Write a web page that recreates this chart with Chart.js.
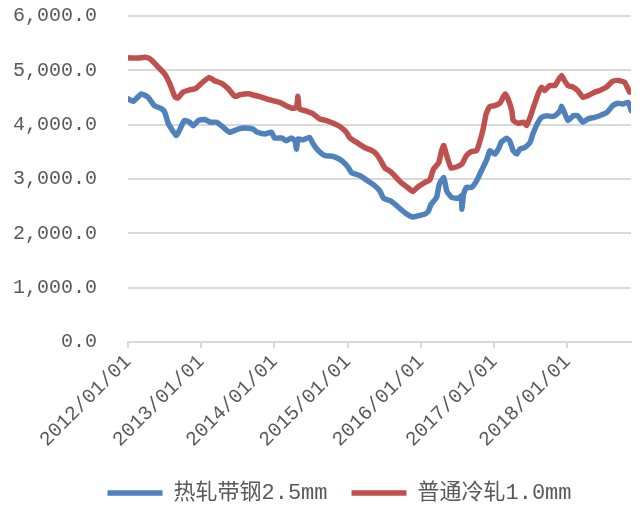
<!DOCTYPE html>
<html>
<head>
<meta charset="utf-8">
<script src="https://cdn.jsdelivr.net/npm/chart.js@4/dist/chart.umd.min.js"></script>
<style>
  html, body { margin: 0; padding: 0; background: #ffffff; }
  #wrap { width: 641px; height: 506px; position: relative; }
</style>
</head>
<body>
<div id="wrap"><canvas id="c" width="641" height="506"></canvas></div>
<script>
// 热轧带钢2.5mm 价格（元/吨）
const hotDates = [
  '2012-01-01','2012-01-27','2012-03-08','2012-04-10','2012-05-12','2012-06-18','2012-07-03','2012-07-21',
  '2012-08-30','2012-09-17','2012-10-09','2012-11-04','2012-11-22','2012-12-17','2013-01-19','2013-02-14',
  '2013-03-19','2013-04-21','2013-05-23','2013-07-03','2013-08-04','2013-09-17','2013-10-02','2013-11-15',
  '2013-12-17','2014-01-01','2014-02-06','2014-03-01','2014-03-26','2014-04-13','2014-04-21','2014-04-28',
  '2014-05-23','2014-06-25','2014-07-13','2014-08-08','2014-09-10','2014-10-20','2014-12-03','2015-01-04',
  '2015-01-19','2015-03-04','2015-04-21','2015-05-16','2015-06-10','2015-06-29','2015-08-01','2015-09-03',
  '2015-10-13','2015-11-22','2015-12-17','2016-01-19','2016-02-06','2016-02-21','2016-03-19','2016-04-02',
  '2016-04-24','2016-05-09','2016-06-03','2016-07-06','2016-07-21','2016-07-24','2016-08-01','2016-08-15',
  '2016-09-10','2016-10-05','2016-10-31','2016-11-26','2016-12-10','2017-01-04','2017-01-23','2017-02-06',
  '2017-03-04','2017-03-19','2017-04-06','2017-04-24','2017-05-09','2017-06-03','2017-06-29','2017-07-13',
  '2017-08-08','2017-08-26','2017-09-21','2017-10-13','2017-10-31','2017-11-26','2017-12-03','2017-12-17',
  '2018-01-04','2018-01-30','2018-02-21','2018-03-19','2018-04-13','2018-05-16','2018-06-11','2018-07-17',
  '2018-08-15','2018-09-10','2018-10-05','2018-10-31','2018-11-15'
];
const hotPrices = [
  4475, 4430, 4565, 4505, 4350, 4290, 4225, 4015,
  3800, 3920, 4075, 4045, 3980, 4075, 4095, 4045,
  4045, 3950, 3860, 3920, 3940, 3920, 3870, 3830,
  3860, 3755, 3755, 3705, 3755, 3705, 3550, 3735,
  3720, 3765, 3645, 3520, 3430, 3415, 3335, 3210,
  3120, 3060, 2940, 2875, 2780, 2645, 2600, 2505,
  2380, 2300, 2320, 2350, 2400, 2535, 2660, 2905,
  3025, 2780, 2660, 2645, 2690, 2445, 2720, 2845,
  2845, 2965, 3165, 3365, 3520, 3460, 3560, 3680,
  3750, 3705, 3520, 3460, 3550, 3580, 3675, 3830,
  4045, 4135, 4165, 4150, 4165, 4260, 4335, 4225,
  4075, 4165, 4165, 4045, 4105, 4135, 4165, 4225,
  4350, 4395, 4380, 4410, 4260
];

// 普通冷轧1.0mm 价格（元/吨）
const coldDates = [
  '2012-01-01','2012-02-21','2012-03-26','2012-04-21','2012-05-23','2012-07-03','2012-07-28','2012-08-23',
  '2012-09-06','2012-10-02','2012-11-04','2012-12-06','2013-01-08','2013-02-10','2013-03-08','2013-04-13',
  '2013-05-16','2013-06-18','2013-07-13','2013-08-23','2013-09-24','2013-10-20','2013-12-10','2014-01-27',
  '2014-02-28','2014-04-02','2014-04-21','2014-04-28','2014-05-05','2014-05-31','2014-07-13','2014-08-15',
  '2014-09-17','2014-10-27','2014-11-29','2014-12-25','2015-01-12','2015-02-14','2015-03-26','2015-04-28',
  '2015-05-16','2015-06-10','2015-07-06','2015-08-01','2015-08-23','2015-09-24','2015-10-31','2015-11-22',
  '2015-12-17','2016-01-19','2016-02-14','2016-03-04','2016-03-30','2016-04-13','2016-04-24','2016-05-09',
  '2016-05-31','2016-06-29','2016-07-24','2016-08-15','2016-09-10','2016-10-05','2016-10-20','2016-11-07',
  '2016-11-22','2016-12-10','2017-01-04','2017-01-30','2017-02-14','2017-02-25','2017-03-11','2017-03-30',
  '2017-04-06','2017-05-01','2017-05-27','2017-06-11','2017-06-29','2017-07-13','2017-08-08','2017-08-26',
  '2017-09-10','2017-10-05','2017-10-31','2017-11-15','2017-12-03','2017-12-17','2018-01-04','2018-01-30',
  '2018-02-21','2018-03-19','2018-04-13','2018-05-16','2018-06-11','2018-07-17','2018-08-15','2018-09-10',
  '2018-10-13','2018-11-07'
];
const coldPrices = [
  5230, 5225, 5240, 5210, 5090, 4930, 4750, 4510,
  4490, 4600, 4640, 4670, 4780, 4870, 4810, 4760,
  4660, 4520, 4550, 4570, 4540, 4515, 4455, 4410,
  4350, 4300, 4320, 4520, 4290, 4260, 4200, 4105,
  4075, 4015, 3950, 3860, 3755, 3675, 3580, 3530,
  3490, 3370, 3200, 3140, 3060, 2935, 2830, 2770,
  2855, 2935, 2980, 3185, 3300, 3520, 3615, 3430,
  3200, 3225, 3275, 3430, 3505, 3520, 3675, 3920,
  4200, 4335, 4350, 4400, 4500, 4565, 4475, 4260,
  4075, 4025, 4045, 3985, 4135, 4290, 4565, 4690,
  4630, 4720, 4720, 4810, 4905, 4815, 4720, 4690,
  4630, 4505, 4535, 4595, 4630, 4700, 4800, 4815,
  4780, 4600
];

// 横轴刻度年份与纵轴范围
const yearTicks = [2012, 2013, 2014, 2015, 2016, 2017, 2018];
const axisStart = '2012-01-01';
const axisEnd = '2018-11-14';
const yMin = 0, yMax = 6000, yStep = 1000;

const seriesNames = ['热轧带钢2.5mm', '普通冷轧1.0mm'];
const seriesColors = ['#4F81BD', '#C0504D'];

// 日期转为小数年份，供线性横轴使用
function toYear(s) {
  const [y, m, d] = s.split('-').map(Number);
  const t0 = Date.UTC(y, 0, 1), t1 = Date.UTC(y + 1, 0, 1);
  return y + (Date.UTC(y, m - 1, d) - t0) / (t1 - t0);
}
function pairs(dates, values) {
  return dates.map((d, i) => ({ x: toYear(d), y: values[i] }));
}

const FONT = '"Liberation Mono", "Noto Sans CJK SC", sans-serif';
const fmt = v => v.toLocaleString('en-US', { minimumFractionDigits: 1, maximumFractionDigits: 1 });

// 图例位置微调：整体右移并下移
const legendShift = {
  id: 'legendShift',
  afterLayout(chart) {
    const lg = chart.legend;
    if (lg) { lg.left += 24; lg.right += 24; lg.top += 10; lg.bottom += 10; }
  }
};

new Chart(document.getElementById('c'), {
  type: 'line',
  plugins: [legendShift],
  data: {
    datasets: [
      { label: seriesNames[0], data: pairs(hotDates, hotPrices) },
      { label: seriesNames[1], data: pairs(coldDates, coldPrices) }
    ].map((ds, i) => Object.assign(ds, {
      borderColor: seriesColors[i],
      backgroundColor: seriesColors[i],
      borderWidth: 5.5,
      borderCapStyle: 'round',
      borderJoinStyle: 'round',
      pointRadius: 0,
      pointHoverRadius: 0,
      tension: 0.15,
      fill: false
    }))
  },
  options: {
    responsive: false,
    animation: false,
    devicePixelRatio: 1,
    layout: { padding: { left: 0, right: 10, top: 16, bottom: 2 } },
    plugins: {
      tooltip: { enabled: false },
      legend: {
        position: 'bottom',
        labels: {
          color: '#595959',
          font: { family: FONT, size: 22 },
          usePointStyle: true,
          pointStyle: 'line',
          pointStyleWidth: 55,
          padding: 24
        }
      }
    },
    scales: {
      x: {
        type: 'linear',
        min: toYear(axisStart),
        max: toYear(axisEnd),
        afterBuildTicks: s => { s.ticks = yearTicks.map(v => ({ value: v })); },
        afterFit: s => { s.height = 106; s.paddingLeft = 0; s.paddingRight = 0; },
        border: { display: true, color: '#d9d9d9', width: 2 },
        grid: { drawOnChartArea: false, drawTicks: true, tickLength: 6, color: '#d9d9d9', lineWidth: 2 },
        ticks: {
          color: '#595959',
          font: { family: FONT, size: 20 },
          minRotation: 45,
          maxRotation: 45,
          autoSkip: false,
          padding: 2,
          callback: v => v + '/01/01'
        }
      },
      y: {
        min: yMin,
        max: yMax,
        afterFit: s => { s.width = 128; s.paddingTop = 0; s.paddingBottom = 0; },
        border: { display: false },
        grid: { color: '#d9d9d9', lineWidth: 2, drawTicks: false },
        ticks: {
          stepSize: yStep,
          color: '#595959',
          font: { family: FONT, size: 20 },
          padding: 31,
          callback: v => fmt(v)
        }
      }
    }
  }
});
</script>
</body>
</html>
